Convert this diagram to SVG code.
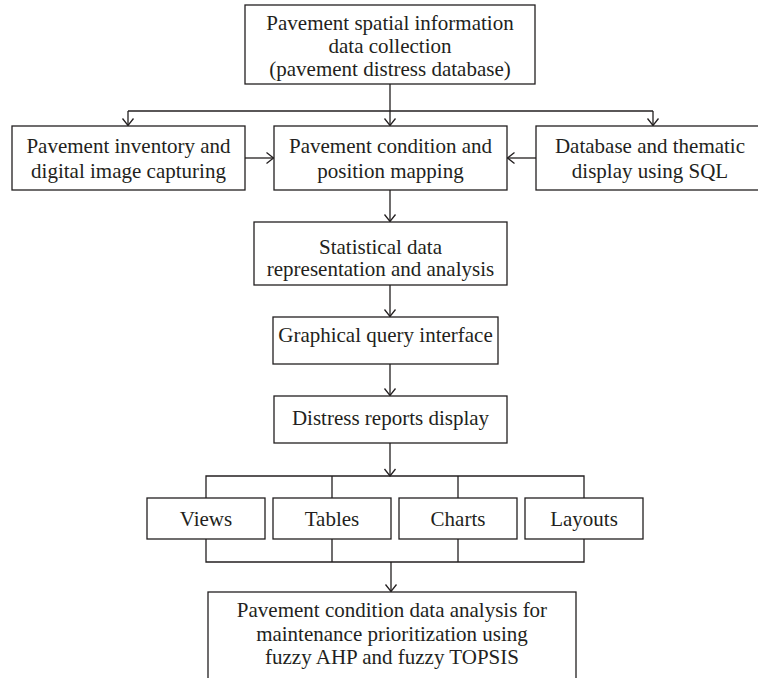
<svg xmlns="http://www.w3.org/2000/svg" width="758" height="678" viewBox="0 0 758 678">
<defs>
<style>
.box{fill:#fff;stroke:#231f20;stroke-width:1.3}
.t{font-family:"Liberation Serif","Times New Roman",serif;font-size:21px;fill:#231f20;text-anchor:middle}
.c{fill:none;stroke:#231f20;stroke-width:1.3}
.a{marker-end:url(#arr)}
</style>
<marker id="arr" markerUnits="userSpaceOnUse" viewBox="-9 -7 10 14" refX="0" refY="0" markerWidth="10" markerHeight="14" orient="auto">
<path d="M-7,-5.5 L0,0 L-7,5.5" fill="none" stroke="#231f20" stroke-width="1.3"/>
</marker>
</defs>
<rect width="758" height="678" fill="#fff"/>
<g id="connectors">
<path class="c a" d="M390,84 L390,125.5"/>
<path class="c" d="M128,111 L653,111"/>
<path class="c a" d="M128,111 L128,125.5"/>
<path class="c a" d="M653,111 L653,125.5"/>
<path class="c a" d="M245,158 L273.5,158"/>
<path class="c a" d="M536,158 L507.5,158"/>
<path class="c a" d="M390,190 L390,221.5"/>
<path class="c a" d="M390,285 L390,316.5"/>
<path class="c a" d="M390,364 L390,395.5"/>
<path class="c a" d="M390,443 L390,476"/>
<path class="c" d="M206,498 L206,476 L584,476 L584,498 M332,476 L332,498 M458,476 L458,498"/>
<path class="c" d="M206,539 L206,562 L584,562 L584,539 M332,539 L332,562 M458,539 L458,562"/>
<path class="c a" d="M391,562 L391,591.5"/>
</g>
<g id="n1"><rect class="box" x="245" y="5" width="290" height="79"/>
<text class="t" x="390" y="30">Pavement spatial information</text>
<text class="t" x="390" y="53">data collection</text>
<text class="t" x="390" y="76">(pavement distress database)</text></g>
<g id="n2"><rect class="box" x="12" y="126" width="233" height="64"/>
<text class="t" x="128.5" y="153">Pavement inventory and</text>
<text class="t" x="128.5" y="178">digital image capturing</text></g>
<g id="n3"><rect class="box" x="274" y="126" width="233" height="64"/>
<text class="t" x="390.5" y="153">Pavement condition and</text>
<text class="t" x="390.5" y="178">position mapping</text></g>
<g id="n4"><rect class="box" x="536" y="126" width="234" height="64"/>
<text class="t" x="650" y="153">Database and thematic</text>
<text class="t" x="650" y="178">display using SQL</text></g>
<g id="n5"><rect class="box" x="254" y="222" width="253" height="63"/>
<text class="t" x="380.5" y="254">Statistical data</text>
<text class="t" x="380.5" y="276">representation and analysis</text></g>
<g id="n6"><rect class="box" x="273" y="317" width="225" height="47"/>
<text class="t" x="385.5" y="342">Graphical query interface</text></g>
<g id="n7"><rect class="box" x="274" y="396" width="233" height="47"/>
<text class="t" x="390.5" y="425">Distress reports display</text></g>
<g id="n8"><rect class="box" x="147" y="498" width="118" height="41"/>
<text class="t" x="206" y="526">Views</text></g>
<g id="n9"><rect class="box" x="273" y="498" width="118" height="41"/>
<text class="t" x="332" y="526">Tables</text></g>
<g id="n10"><rect class="box" x="399" y="498" width="118" height="41"/>
<text class="t" x="458" y="526">Charts</text></g>
<g id="n11"><rect class="box" x="525" y="498" width="118" height="41"/>
<text class="t" x="584" y="526">Layouts</text></g>
<g id="n12"><rect class="box" x="208" y="592" width="368" height="110"/>
<text class="t" x="392" y="617">Pavement condition data analysis for</text>
<text class="t" x="392" y="641">maintenance prioritization using</text>
<text class="t" x="392" y="664">fuzzy AHP and fuzzy TOPSIS</text></g>
</svg>
